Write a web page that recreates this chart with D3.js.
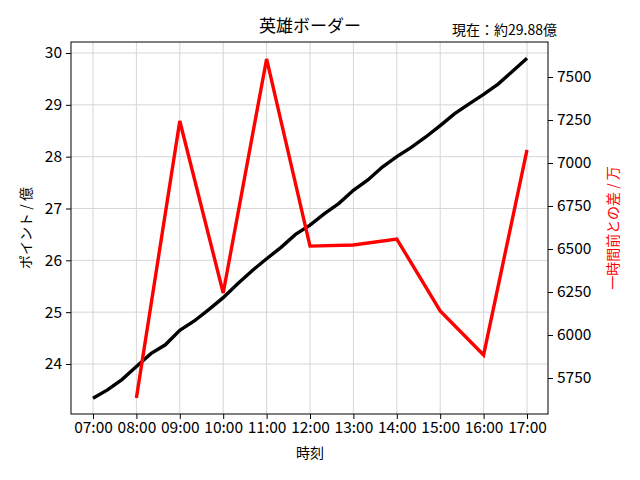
<!DOCTYPE html>
<html><head><meta charset="utf-8">
<script src="https://cdn.jsdelivr.net/npm/d3@7"></script>
<style>body{margin:0;background:#fff}text{font-family:"Noto Sans CJK JP",sans-serif}</style>
</head><body><svg width="640" height="480"></svg>
<script>
// 黒線：20分ごと（億）
const pointTimes=d3.range(0,31).map(i=>7+i/3)
const points=[23.34,23.5,23.7,23.95,24.2,24.37,24.65,24.83,25.05,25.28,25.55,25.8,26.03,26.25,26.5,26.68,26.9,27.1,27.35,27.55,27.8,28.0,28.18,28.38,28.6,28.83,29.02,29.2,29.4,29.65,29.9]
// 赤線：一時間前との差（万）
const diffTimes=[8,9,10,11,12,13,14,15,16,17]
const diffs=[5634,7244,6244,7605,6517,6523,6558,6140,5884,7076]
const hourLabels=["07:00","08:00","09:00","10:00","11:00","12:00","13:00","14:00","15:00","16:00","17:00"]
const leftTicks=[24,25,26,27,28,29,30]
const rightTicks=[5750,6000,6250,6500,6750,7000,7250,7500]

const svg=d3.select('svg')
const L=71,R=548,T=42,B=414
const x=d3.scaleLinear().domain([7,17]).range([93,527])
const y=d3.scaleLinear().domain([24,30]).range([364,53])
const y2=d3.scaleLinear().domain([5750,7500]).range([378,77])

const g=svg.append('g')
// grid
g.selectAll('.gx').data(d3.range(7,18)).join('line').attr('x1',d=>x(d)).attr('x2',d=>x(d)).attr('y1',T).attr('y2',B).attr('stroke','#d6d6d6')
g.selectAll('.gy').data(leftTicks).join('line').attr('x1',L).attr('x2',R).attr('y1',d=>y(d)).attr('y2',d=>y(d)).attr('stroke','#d6d6d6')

g.append('path').datum(points).attr('fill','none').attr('stroke','#000').attr('stroke-width',3.4)
 .attr('d',d3.line().x((d,i)=>x(pointTimes[i])).y(d=>y(d)))
g.append('path').datum(diffs).attr('fill','none').attr('stroke','#ff0000').attr('stroke-width',3.4)
 .attr('d',d3.line().x((d,i)=>x(diffTimes[i])).y(d=>y2(d)))

g.append('rect').attr('x',L).attr('y',T).attr('width',R-L).attr('height',B-T).attr('fill','none').attr('stroke','#000').attr('stroke-width',1)

const xa=svg.append('g').attr('transform',`translate(0,${B})`)
 .call(d3.axisBottom(x).tickValues(d3.range(7,18)).tickFormat((d,i)=>hourLabels[i]).tickSize(5).tickPadding(3))
const ya=svg.append('g').attr('transform',`translate(${L},0)`)
 .call(d3.axisLeft(y).tickValues(leftTicks).tickFormat(d3.format('d')).tickSize(5).tickPadding(4))
const ya2=svg.append('g').attr('transform',`translate(${R},0)`)
 .call(d3.axisRight(y2).tickValues(rightTicks).tickFormat(d3.format('d')).tickSize(5).tickPadding(4))
;[xa,ya,ya2].forEach(a=>{a.select('.domain').remove();a.selectAll('text').attr('font-size',15.5).attr('fill','#000')})

svg.append('text').attr('x',310).attr('y',32).attr('text-anchor','middle').attr('font-size',17).text('英雄ボーダー')
svg.append('text').attr('x',557).attr('y',35).attr('text-anchor','end').attr('font-size',14).text('現在：約29.88億')
svg.append('text').attr('x',310).attr('y',458).attr('text-anchor','middle').attr('font-size',14).text('時刻')
svg.append('text').attr('transform','translate(31,228) rotate(-90)').attr('text-anchor','middle').attr('font-size',14).text('ポイント / 億')
svg.append('text').attr('transform','translate(618,228) rotate(-90)').attr('text-anchor','middle').attr('font-size',14).attr('fill','#ff0000').text('一時間前との差 / 万')
</script></body></html>
